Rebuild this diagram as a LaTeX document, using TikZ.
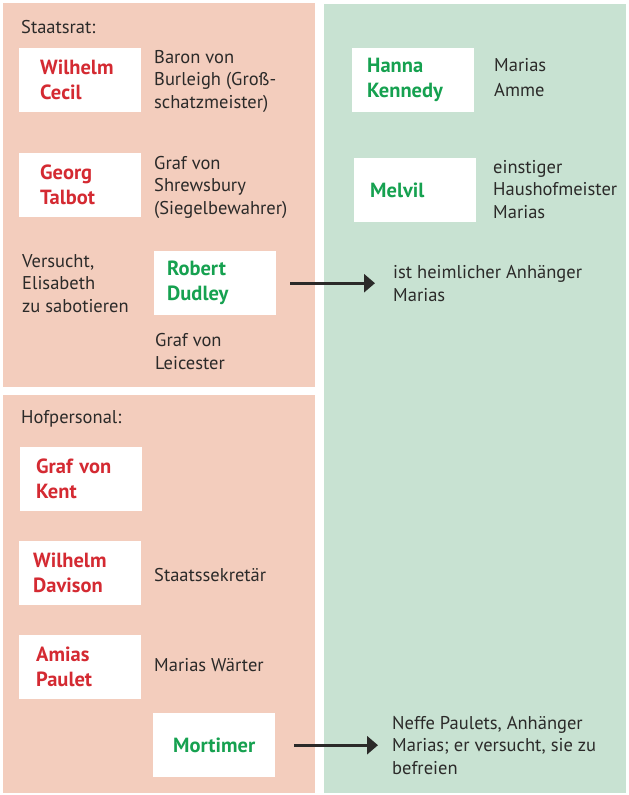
\documentclass[tikz,border=0pt]{standalone}
\usepackage{fontspec}
\setmainfont{PT Sans}
\usetikzlibrary{arrows.meta,positioning}
\definecolor{rotfeld}{HTML}{F3CDBD}
\definecolor{gruenfeld}{HTML}{C8E2D2}
\definecolor{rotname}{HTML}{D42A32}
\definecolor{gruenname}{HTML}{16A150}
\definecolor{schrift}{HTML}{2B2A29}
\begin{document}
\begin{tikzpicture}[x=1pt,y=-1pt,
    namebox/.style={fill=white, anchor=north west, minimum width=122pt, minimum height=64pt,
        inner sep=0pt, text width=#1, align=left, font=\fontsize{20.5}{25}\selectfont\bfseries},
    rot/.style={namebox=#1, text=rotname},
    gruen/.style={namebox=#1, text=gruenname},
    info/.style={anchor=base west, inner sep=0pt, align=left, text=schrift,
        font=\fontsize{18.5}{22.5}\selectfont},
    pfeil/.style={-{Triangle[length=11pt,width=18pt]}, line width=2.8pt, schrift}]
    \useasboundingbox (0,0) rectangle (629,795);

    % Felder
    \fill[rotfeld] (3,3) rectangle (315,387);
    \fill[rotfeld] (3,395) rectangle (315,793);
    \fill[gruenfeld] (324,4) rectangle (626,793);

    % Staatsrat
    \node[info] (staatsrat) at (21,33) {Staatsrat:};
    \node[rot=80pt] (cecil) at (19,48) {Wilhelm\\Cecil};
    \node[info] (burleigh) at (154,108) {Baron von\\Burleigh (Groß-\\schatzmeister)};
    \node[rot=80pt] (talbot) at (19,153) {Georg\\Talbot};
    \node[info] (shrewsbury) at (154,214) {Graf von\\Shrewsbury\\(Siegelbewahrer)};
    \node[info] (versucht) at (22,312) {Versucht,\\Elisabeth\\zu sabotieren};
    \node[gruen=96pt] (dudley) at (154,251) {Robert\\Dudley};
    \node[info] (leicester) at (155,369) {Graf von\\Leicester};

    % Hofpersonal
    \node[info] (hofpersonal) at (21,423) {Hofpersonal:};
    \node[rot=90pt] (kent) at (20,447) {Graf von\\Kent};
    \node[rot=94pt] (davison) at (19,541) {Wilhelm\\Davison};
    \node[info] (sekretaer) at (154,581) {Staatssekretär};
    \node[rot=88pt] (paulet) at (19,635) {Amias\\Paulet};
    \node[info] (waerter) at (154,671) {Marias Wärter};
    \node[gruen=122pt, align=center] (mortimer) at (153,713) {Mortimer};

    % Marias Seite
    \node[gruen=92pt] (kennedy) at (352,48) {Hanna\\Kennedy};
    \node[info, font=\fontsize{18.5}{25}\selectfont] (amme) at (494,96) {Marias\\Amme};
    \node[gruen=90pt] (melvil) at (354,158) {Melvil};
    \node[info] (haushof) at (493,218) {einstiger\\Haushofmeister\\Marias};
    \node[info] (heimlich) at (393,301) {ist heimlicher Anhänger\\Marias};
    \node[info] (neffe) at (392,774) {Neffe Paulets, Anhänger\\Marias; er versucht, sie zu\\befreien};

    % Pfeile
    \draw[pfeil, shorten <=14pt, shorten >=18pt] (dudley.east) -- (dudley.east -| heimlich.west);
    \draw[pfeil, shorten <=19pt, shorten >=14pt] (mortimer.east) -- (mortimer.east -| neffe.west);
\end{tikzpicture}
\end{document}
